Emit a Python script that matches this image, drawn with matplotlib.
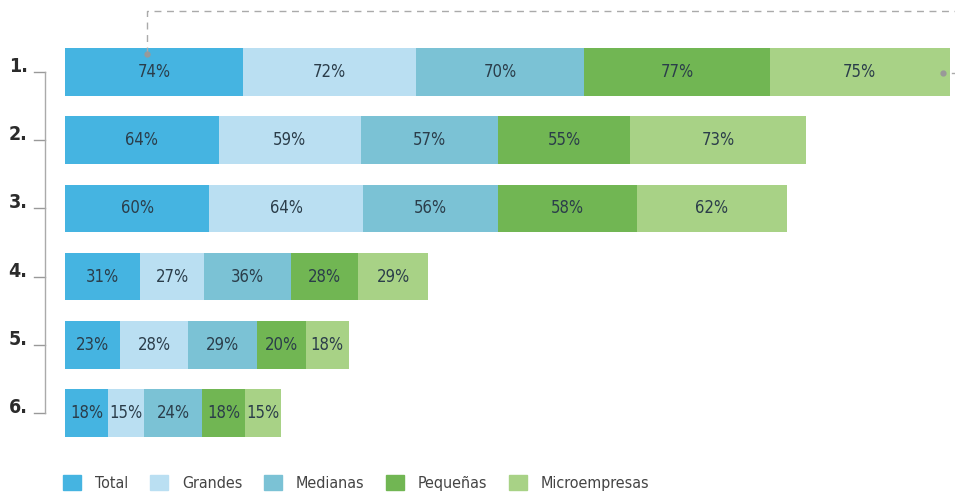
import matplotlib.pyplot as plt
from matplotlib.patches import Patch

plt.rcParams['font.family'] = ['DejaVu Sans']
plt.rcParams['font.stretch'] = 'condensed'

rows = ['1.', '2.', '3.', '4.', '5.', '6.']
series = ['Total', 'Grandes', 'Medianas', 'Pequeñas', 'Microempresas']
total = [74, 64, 60, 31, 23, 18]
grandes = [72, 59, 64, 27, 28, 15]
medianas = [70, 57, 56, 36, 29, 24]
pequenas = [77, 55, 58, 28, 20, 18]
micro = [75, 73, 62, 29, 18, 15]
colors = ['#45b4e1', '#badff2', '#7bc2d5', '#71b653', '#a8d286']

values = [total, grandes, medianas, pequenas, micro]

fig = plt.figure(figsize=(9.55, 4.95), dpi=100)
ax = fig.add_axes([65 / 955, 40 / 495, 890 / 955, 455 / 495])
ax.set_xlim(0, 890 / 2.405)
ax.set_ylim((455 - 72) / 68.2, -72 / 68.2)
ax.axis('off')

ypos = list(range(len(rows)))
left = [0] * len(rows)
for vals, col in zip(values, colors):
    ax.barh(ypos, vals, left=left, height=0.70, color=col)
    for i, v in enumerate(vals):
        ax.text(left[i] + v / 2, i, f'{v}%', ha='center', va='center',
                fontsize=12, color='#2b3d4a')
    left = [l + v for l, v in zip(left, vals)]

# row labels and bracket
for i, r in enumerate(rows):
    ax.text(-19.5, i - 0.08, r, ha='center', va='center', fontsize=14,
            fontweight='bold', color='#2b2b2b', clip_on=False)
    ax.plot([-13, -8.3], [i, i], color='#999999', lw=1, clip_on=False)
ax.plot([-8.3, -8.3], [0, 5], color='#aaaaaa', lw=1, clip_on=False)

# dashed connector at top
xd = total[0] / 2 - 3
ytop = -0.895
ax.plot([xd, xd, 400], [-0.27, ytop, ytop], color='#aaaaaa', lw=1,
        ls=(0, (5, 4)), clip_on=False)
ax.plot([xd], [-0.27], 'o', color='#999999', ms=3.5, clip_on=False)
ax.plot([left[0] - 3], [0.02], 'o', color='#999999', ms=3.5, clip_on=False)
ax.plot([left[0] + 1, 400], [0.02, 0.02], color='#aaaaaa', lw=1, clip_on=False)

handles = [Patch(color=c, label=s) for s, c in zip(series, colors)]
fig.legend(handles=handles, loc='center left', bbox_to_anchor=(49 / 955, 1 - 483 / 495),
           ncol=5, frameon=False, fontsize=11.5, handlelength=1.1, handleheight=1.1,
           columnspacing=1.35, handletextpad=0.9, labelcolor='#444444')

fig.savefig('out.png', dpi=100)
